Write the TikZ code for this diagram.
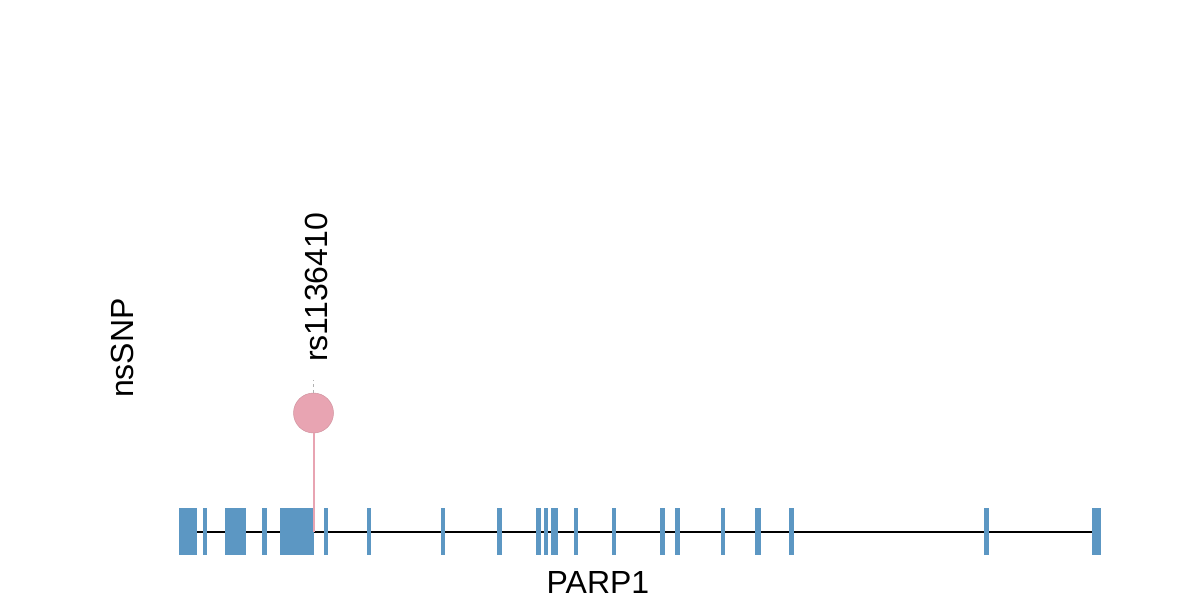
\documentclass[tikz,border=0pt]{standalone}
\usepackage{fontspec}
\setmainfont{Liberation Sans}
\definecolor{exonblue}{RGB}{92,151,195}
\definecolor{snppink}{RGB}{232,164,178}
\tikzset{
  exon/.style={fill=exonblue, draw=none},
  lbl/.style={font=\fontsize{32}{38}\selectfont, inner sep=0pt}
}

\begin{document}
\begin{tikzpicture}[x=1pt, y=-1pt]
\useasboundingbox (0,0) rectangle (1200,600);
\coordinate (gstart) at (179,531.5);
\coordinate (gend) at (1101,531.5);
\draw[line width=2pt] (gstart) -- (gend);
\foreach \a/\b in {179/197, 203/207, 225/245.7, 262/266.7, 280.3/314.3, 324/328, 367.3/371,
  440.7/445, 496.7/502.3, 536.3/540.7, 544.3/547.7, 551.3/557.7, 573.7/578.3,
  612/616.3, 659.7/665, 675.3/679.7, 720.7/724.7, 754.7/761, 789.3/793.7,
  983.7/989, 1092.3/1101}
  \fill[exon] (\a,508) rectangle (\b,555);
\coordinate (snpbase) at (313.5,531.5);
\node[circle, fill=snppink, draw=snppink!90!black, line width=0.5pt, minimum size=40pt, inner sep=0pt] (snp) at (313.5,413) {};
\coordinate (tick) at (313.5,380);
\draw[snppink, line width=2pt] (snpbase) -- (snp.south);
\draw[gray!60, dashed, line width=1.2pt] (snp.north) -- (tick);
\node[lbl, rotate=90, anchor=west] (rsid) at (316,362) {rs1136410};
\node[lbl, rotate=90] (track) at (122,348) {nsSNP};
\node[lbl] (gene) at (598,582) {PARP1};
\end{tikzpicture}
\end{document}
